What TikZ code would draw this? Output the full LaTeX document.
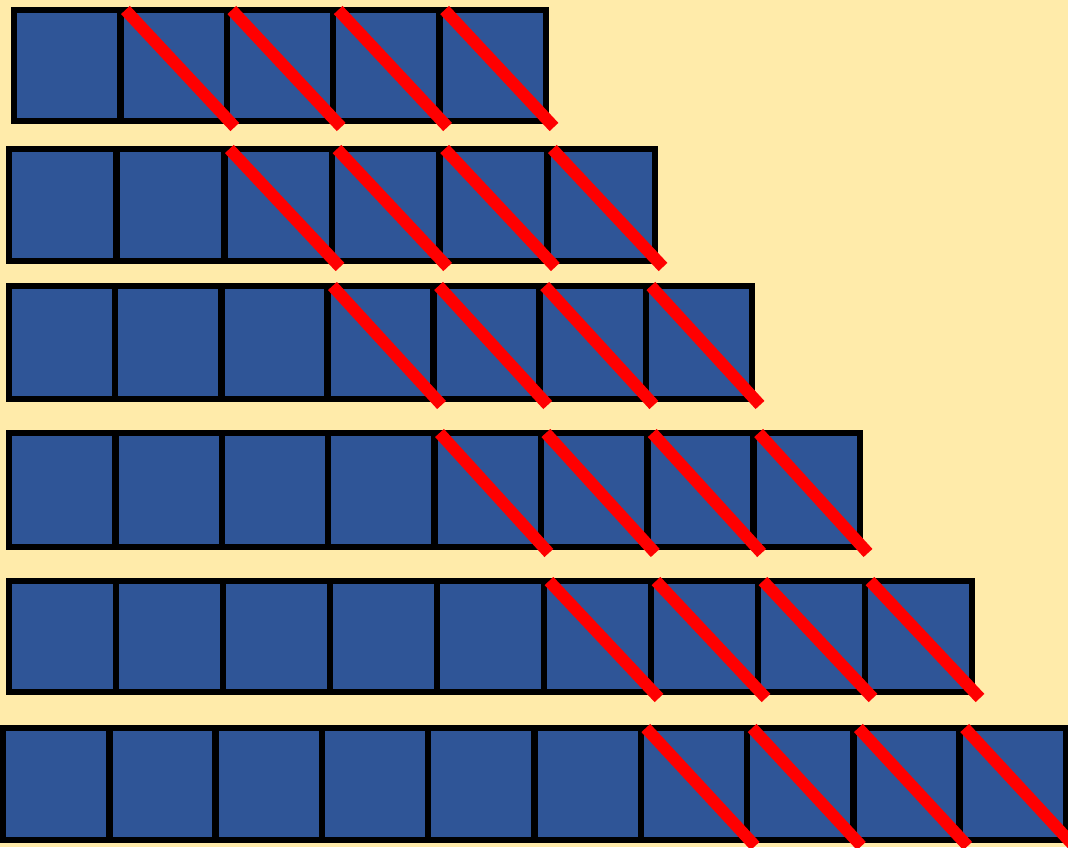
\documentclass[tikz,border=0pt]{standalone}
\usepackage{xcolor}
\definecolor{bg}{HTML}{FFEBAA}
\definecolor{sqblue}{HTML}{2F5597}
\definecolor{slash}{HTML}{FF0000}
\begin{document}
\begin{tikzpicture}[x=1pt,y=-1pt,
  sq/.style={draw=black,fill=sqblue,line width=6.5pt,line join=miter},
  slashline/.style={draw=slash,line width=12pt,line cap=butt}]
\fill[bg] (0,0) rectangle (1068,847);
\useasboundingbox (0,0) rectangle (1068,847);
\foreach \r/\xa/\xb/\yt/\yb/\n in {1/14/546/10/121/5, 2/9/655/149/261/6, 3/9/752/286/399/7, 4/9/860/433/547/8, 5/9/972/581/692/9, 6/3/1066/728/840/10} {
  \pgfmathsetmacro\w{(\xb-\xa)/\n}
  \foreach \i in {1,...,\n} {
    \draw[sq] ({\xa+(\i-1)*\w},\yt) rectangle ({\xa+\i*\w},\yb);
  }
  \pgfmathtruncatemacro\s{\n-3}
  \foreach \i in {\s,...,\n} {
    \coordinate (a\r-\i) at ({\xa+(\i-1)*\w+5},{\yt});
    \coordinate (b\r-\i) at ({\xa+\i*\w+8},{\yb+6});
    \draw[slashline] (a\r-\i) -- (b\r-\i);
  }
}
\end{tikzpicture}
\end{document}
